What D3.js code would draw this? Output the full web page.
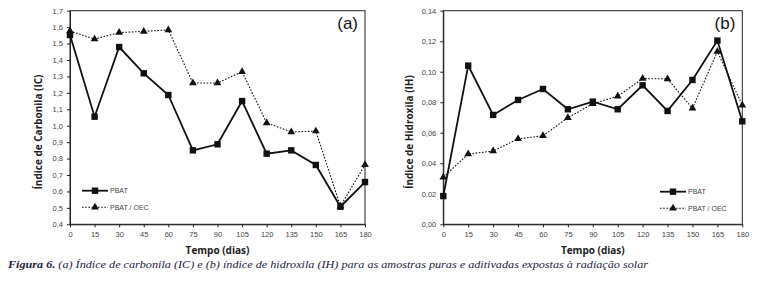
<!DOCTYPE html>
<html>
<head>
<meta charset="utf-8">
<script src="https://cdn.jsdelivr.net/npm/d3@7"></script>
<style>
  body { margin: 0; background: #fff; }
  svg { display: block; }
</style>
</head>
<body>
<div id="canvas"></div>
<script>
"use strict"

// DATA

let days = [0, 15, 30, 45, 60, 75, 90, 105, 120, 135, 150, 165, 180];

let icPbat = [1.552, 1.055, 1.479, 1.319, 1.187, 0.85, 0.887, 1.15, 0.83, 0.85, 0.761, 0.507, 0.657];
let icPbatOec = [1.577, 1.527, 1.567, 1.574, 1.583, 1.26, 1.26, 1.329, 1.017, 0.962, 0.967, 0.51, 0.762];

let ihPbat = [0.0185, 0.104, 0.0717, 0.0815, 0.0887, 0.0754, 0.0804, 0.0754, 0.0911, 0.0743, 0.0946, 0.1204, 0.0675];
let ihPbatOec = [0.0308, 0.0461, 0.048, 0.056, 0.058, 0.0699, 0.079, 0.084, 0.0955, 0.0953, 0.076, 0.1132, 0.078];

let icTicks = [0.4, 0.5, 0.6, 0.7, 0.8, 0.9, 1.0, 1.1, 1.2, 1.3, 1.4, 1.5, 1.6, 1.7];
let ihTicks = [0, 0.02, 0.04, 0.06, 0.08, 0.1, 0.12, 0.14];

let seriesNames = ["PBAT", "PBAT / OEC"];


// CONFIGURATION

let svgWidth = 760;
let svgHeight = 286;

let tickFont = "'Liberation Sans', Arial, sans-serif";
let titleFont = "'Open Sans', sans-serif";

let svg = d3.select("#canvas")
    .append("svg")
    .attr("width", svgWidth)
    .attr("height", svgHeight);


// ONE PANEL

function drawPanel(opts) {
    let xScale = d3.scaleLinear()
        .domain([0, 180])
        .range([opts.left, opts.right]);

    let yScale = d3.scaleLinear()
        .domain(opts.yDomain)
        .range([224.3, 10.7]);

    let g = svg.append("g");

    // frame
    g.append("rect")
        .attr("x", opts.left)
        .attr("y", 10.7)
        .attr("width", opts.right - opts.left)
        .attr("height", 224.3 - 10.7)
        .attr("fill", "none")
        .attr("stroke", "#222")
        .attr("stroke-width", 1);

    // axes
    let xAxis = g.append("g")
        .attr("transform", "translate(0,224.3)")
        .call(d3.axisBottom(xScale).tickValues(days).tickSize(3).tickSizeOuter(0).tickPadding(4));

    let yAxis = g.append("g")
        .attr("transform", "translate(" + opts.left + ",0)")
        .call(d3.axisLeft(yScale).tickValues(opts.yTicks).tickSize(3).tickSizeOuter(0).tickPadding(4)
            .tickFormat(function(d) { return d3.format(opts.fmt)(d).replace(".", ","); }));

    [xAxis, yAxis].forEach(function(ax) {
        ax.select(".domain").attr("stroke", "#222");
        ax.selectAll(".tick line").attr("stroke", "#222");
        ax.selectAll(".tick text")
            .attr("fill", "#444")
            .style("font-family", tickFont)
            .style("font-size", "7.5px");
    });

    // lines
    let line = d3.line()
        .x(function(d, i) { return xScale(days[i]); })
        .y(function(d) { return yScale(d); });

    g.append("path")
        .datum(opts.oec)
        .attr("d", line)
        .attr("fill", "none")
        .attr("stroke", "#111")
        .attr("stroke-width", 1.1)
        .attr("stroke-dasharray", "1.6,1.6");

    g.append("path")
        .datum(opts.pbat)
        .attr("d", line)
        .attr("fill", "none")
        .attr("stroke", "#111")
        .attr("stroke-width", 1.8);

    let tri = d3.symbol().type(d3.symbolTriangle).size(26);

    g.selectAll("path.tri")
        .data(opts.oec)
        .join("path")
        .attr("class", "tri")
        .attr("d", tri)
        .attr("transform", function(d, i) { return "translate(" + xScale(days[i]) + "," + yScale(d) + ")"; })
        .attr("fill", "#111");

    g.selectAll("rect.sq")
        .data(opts.pbat)
        .join("rect")
        .attr("class", "sq")
        .attr("x", function(d, i) { return xScale(days[i]) - 3.2; })
        .attr("y", function(d) { return yScale(d) - 3.2; })
        .attr("width", 6.4)
        .attr("height", 6.4)
        .attr("fill", "#111");

    // axis titles
    g.append("text")
        .attr("x", (opts.left + opts.right) / 2)
        .attr("y", 254)
        .attr("text-anchor", "middle")
        .style("font-family", titleFont)
        .style("font-weight", "bold")
        .style("font-size", "10px")
        .attr("fill", "#222")
        .text("Tempo (dias)");

    g.append("text")
        .attr("transform", "translate(" + opts.titleX + ",132) rotate(-90)")
        .attr("text-anchor", "middle")
        .style("font-family", titleFont)
        .style("font-weight", "bold")
        .style("font-size", "10px")
        .attr("fill", "#222")
        .text(opts.yTitle);

    // panel letter
    g.append("text")
        .attr("x", opts.right - 7)
        .attr("y", 29)
        .attr("text-anchor", "end")
        .style("font-family", tickFont)
        .style("font-size", "17px")
        .attr("fill", "#111")
        .text(opts.letter);

    // legend
    let lg = g.append("g");
    let rows = [opts.legendY, opts.legendY + 16.6];

    lg.append("line")
        .attr("x1", opts.legendX).attr("x2", opts.legendX + 26)
        .attr("y1", rows[0]).attr("y2", rows[0])
        .attr("stroke", "#111").attr("stroke-width", 1.8);
    lg.append("rect")
        .attr("x", opts.legendX + 13 - 3.2).attr("y", rows[0] - 3.2)
        .attr("width", 6.4).attr("height", 6.4)
        .attr("fill", "#111");

    lg.append("line")
        .attr("x1", opts.legendX).attr("x2", opts.legendX + 26)
        .attr("y1", rows[1]).attr("y2", rows[1])
        .attr("stroke", "#111").attr("stroke-width", 1.1)
        .attr("stroke-dasharray", "1.6,1.6");
    lg.append("path")
        .attr("d", tri)
        .attr("transform", "translate(" + (opts.legendX + 13) + "," + rows[1] + ")")
        .attr("fill", "#111");

    lg.selectAll("text")
        .data(seriesNames)
        .join("text")
        .attr("x", opts.legendX + 28)
        .attr("y", function(d, i) { return rows[i] + 2.5; })
        .style("font-family", tickFont)
        .style("font-size", "7px")
        .attr("fill", "#444")
        .text(function(d) { return d; });
}

drawPanel({
    left: 70, right: 365,
    yDomain: [0.4, 1.7], yTicks: icTicks, fmt: ".1f",
    pbat: icPbat, oec: icPbatOec,
    yTitle: "Índice de Carbonila (IC)", titleX: 42,
    letter: "(a)",
    legendX: 82, legendY: 190.7
});

drawPanel({
    left: 443.3, right: 742.3,
    yDomain: [0, 0.14], yTicks: ihTicks, fmt: ".2f",
    pbat: ihPbat, oec: ihPbatOec,
    yTitle: "Índice de Hidroxila (IH)", titleX: 413,
    letter: "(b)",
    legendX: 660, legendY: 191.7
});


// CAPTION

let caption = svg.append("text")
    .attr("x", 8)
    .attr("y", 268)
    .attr("textLength", 640)
    .attr("lengthAdjust", "spacingAndGlyphs")
    .style("font-family", "'Liberation Serif', 'Times New Roman', serif")
    .style("font-style", "italic")
    .style("font-size", "11px")
    .attr("fill", "#1c1c3c");

caption.append("tspan")
    .style("font-weight", "bold")
    .text("Figura 6.");

caption.append("tspan")
    .text(" (a) Índice de carbonila (IC) e (b) índice de hidroxila (IH) para as amostras puras e aditivadas expostas à radiação solar");
</script>
</body>
</html>
